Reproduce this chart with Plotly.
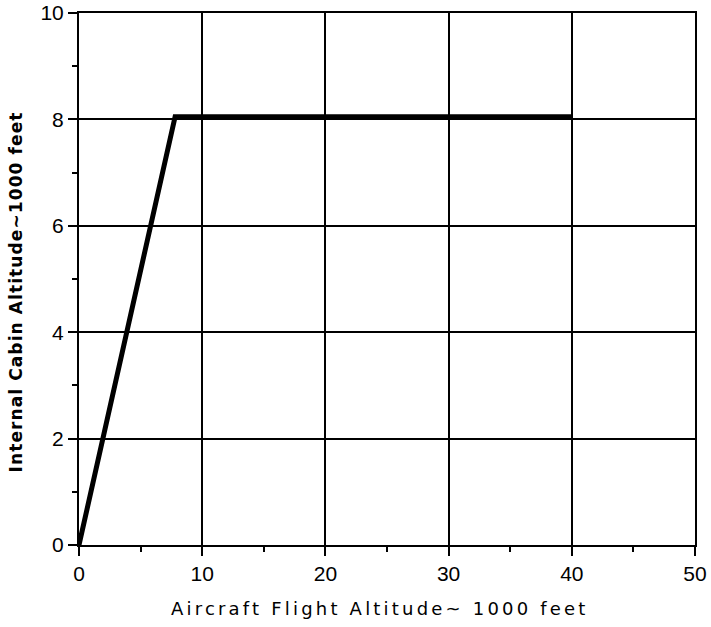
import plotly.graph_objects as go

flight_alt = [0, 7.8, 40]
cabin_alt = [0, 8.05, 8.05]

x_ticks = [0, 10, 20, 30, 40, 50]
y_ticks = [0, 2, 4, 6, 8, 10]

x_title = "Aircraft Flight Altitude~ 1000 feet"
y_title = "Internal Cabin Altitude~1000 feet"

fig = go.Figure()
fig.add_trace(go.Scatter(x=flight_alt, y=cabin_alt, mode="lines",
                         line=dict(color="black", width=5), showlegend=False,
                         hoverinfo="skip"))

tick_font = dict(family="Liberation Sans, Arial, sans-serif", size=21, color="black")

fig.update_xaxes(range=[0, 50], tickvals=x_ticks, ticks="outside", ticklen=9, tickwidth=2,
                 tickcolor="black", showline=True, linecolor="black", linewidth=2, mirror=True,
                 showgrid=True, gridcolor="black", gridwidth=2, zeroline=False,
                 tickfont=tick_font, automargin=False,
                 minor=dict(tickvals=[5, 15, 25, 35, 45], ticks="outside", ticklen=5,
                            tickwidth=2, tickcolor="black", showgrid=False))
fig.update_yaxes(range=[0, 10], tickvals=y_ticks, ticks="outside", ticklen=9, tickwidth=2,
                 tickcolor="black", showline=True, linecolor="black", linewidth=2, mirror=True,
                 showgrid=True, gridcolor="black", gridwidth=2, zeroline=False,
                 tickfont=tick_font, automargin=False,
                 minor=dict(tickvals=[1, 3, 5, 7, 9], ticks="outside", ticklen=5,
                            tickwidth=2, tickcolor="black", showgrid=False))

fig.add_annotation(text='<span style="letter-spacing:3.2px">' + x_title + "</span>",
                   xref="paper", yref="paper", x=0.489, y=-0.12,
                   xanchor="center", yanchor="middle", showarrow=False,
                   font=dict(family="DejaVu Sans, sans-serif", size=18, color="black"))
fig.add_annotation(text='<b><span style="letter-spacing:1.1px">' + y_title + "</span></b>",
                   xref="paper", yref="paper", x=-0.102, y=0.475,
                   xanchor="center", yanchor="middle", textangle=-90, showarrow=False,
                   font=dict(family="DejaVu Sans, sans-serif", size=17, color="black"))

fig.update_layout(width=711, height=627, margin=dict(l=79, r=16, t=13, b=82, autoexpand=False),
                  plot_bgcolor="white", paper_bgcolor="white")

fig.write_html("out.html", config={"displayModeBar": False},
               post_script="document.body.style.margin='0';document.documentElement.style.overflow='hidden';")
